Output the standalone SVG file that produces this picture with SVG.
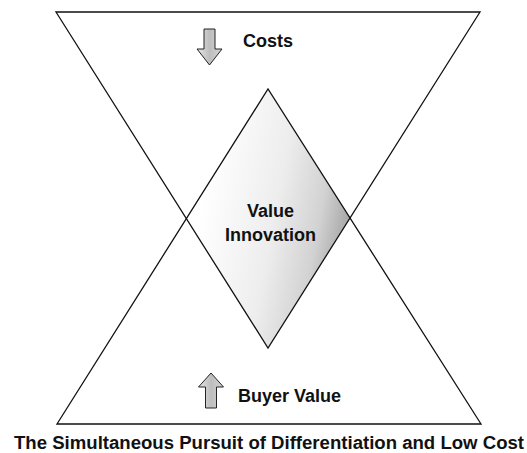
<svg xmlns="http://www.w3.org/2000/svg" width="527" height="453" viewBox="0 0 527 453">
  <defs>
    <linearGradient id="shade" x1="0.15" y1="0.25" x2="1" y2="0.5">
      <stop offset="0" stop-color="#ffffff"/>
      <stop offset="0.5" stop-color="#ededed"/>
      <stop offset="0.8" stop-color="#d2d2d2"/>
      <stop offset="1" stop-color="#a6a6a6"/>
    </linearGradient>
    <linearGradient id="arrowFill" x1="0" y1="0" x2="1" y2="0">
      <stop offset="0" stop-color="#e6e6e6"/>
      <stop offset="0.5" stop-color="#bdbdbd"/>
      <stop offset="1" stop-color="#d6d6d6"/>
    </linearGradient>
  </defs>
  <style>
    .edge { fill: none; stroke: #111; stroke-width: 1.3; stroke-linejoin: miter; }
    .arrow { fill: url(#arrowFill); stroke: #222; stroke-width: 1; }
    .lbl { font-family: "Liberation Sans", Arial, Helvetica, sans-serif; font-weight: bold; font-size: 18px; fill: #111; }
  </style>
  <rect width="527" height="453" fill="#ffffff"/>

  <g id="value-innovation">
    <polygon points="268,89 186.4,218.6 268,348 350,218" fill="url(#shade)" stroke="none"/>
    <text class="lbl" x="270.5" y="217" text-anchor="middle">Value</text>
    <text class="lbl" x="270.5" y="241" text-anchor="middle">Innovation</text>
  </g>

  <g id="costs-triangle">
    <polygon class="edge" points="56,12 480,12 268,348"/>
    <polygon class="arrow" points="204,29 215,29 215,49 222,49 209.5,65 197,49 204,49"/>
    <text class="lbl" x="243" y="47">Costs</text>
  </g>

  <g id="buyer-value-triangle">
    <polygon class="edge" points="57,424 481,424 268,89"/>
    <polygon class="arrow" points="211,373 223.5,387 216.5,387 216.5,408 205.5,408 205.5,387 198.5,387"/>
    <text class="lbl" x="238" y="402">Buyer Value</text>
  </g>

  <g id="connectors"></g>

  <g id="caption">
    <text class="lbl" x="14" y="449" textLength="510" lengthAdjust="spacingAndGlyphs">The Simultaneous Pursuit of Differentiation and Low Cost</text>
  </g>
</svg>
